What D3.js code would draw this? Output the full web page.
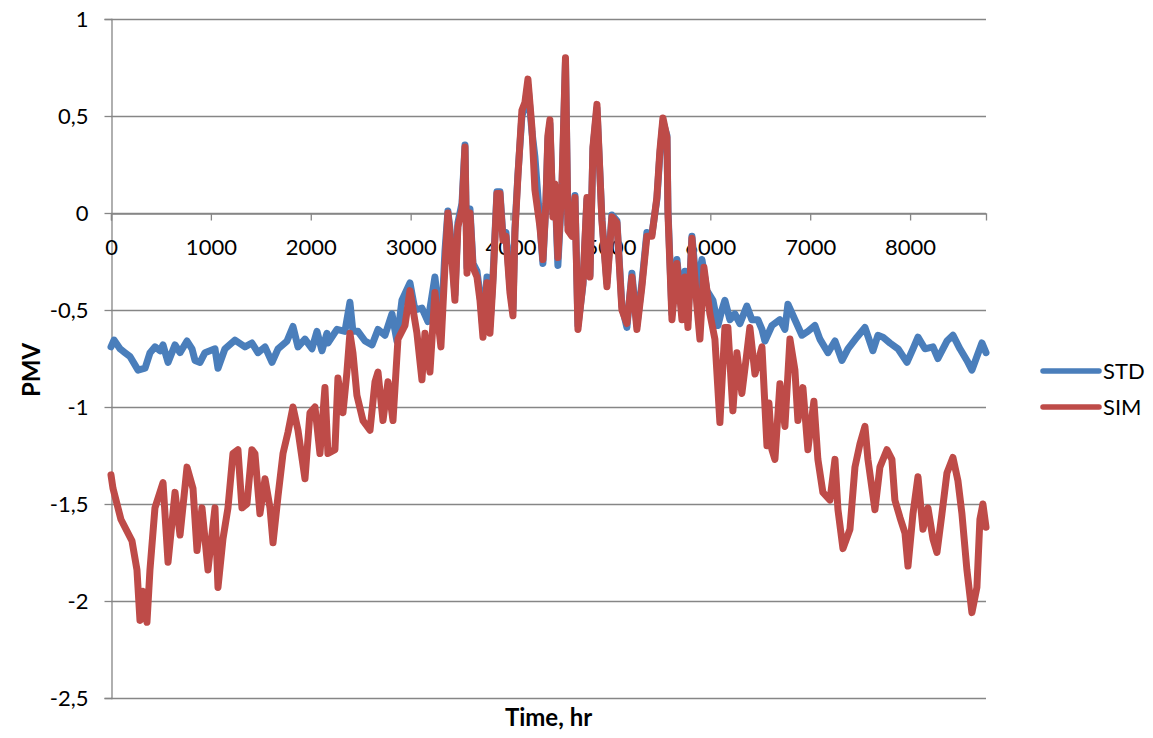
<!DOCTYPE html>
<html><head><meta charset="utf-8">
<script src="https://cdn.jsdelivr.net/npm/d3@7"></script>
<style>html,body{margin:0;padding:0;background:#fff;}svg{display:block;}</style>
</head><body>
<svg id="chart" width="1153" height="738"></svg>
<script>
const xTicks = [0,1000,2000,3000,4000,5000,6000,7000,8000];
const yTicks = [1,0.5,0,-0.5,-1,-1.5,-2,-2.5];
const seriesNames = ["STD","SIM"];
const seriesColors = ["#4A7EBB","#BE4B48"];

const stdHours = [0,30,90,140,190,271,341,391,441,491,521,571,641,691,761,811,841,891,941,1041,1071,1141,1241,1341,1411,1471,1542,1612,1672,1762,1822,1872,1942,2012,2062,2112,2162,2172,2262,2342,2392,2422,2472,2543,2613,2673,2743,2813,2863,2913,2993,3043,3113,3173,3243,
3273,3303,3343,3373,3393,3423,3443,3473,3514,3544,3564,3594,3624,3664,3694,3724,3764,3794,3824,3864,3894,3924,3954,3994,4024,4044,4074,4114,4144,4174,4214,4244,4294,4324,4354,4374,4394,4424,4444,4474,4515,4550,4575,
4615,4645,4675,4725,4765,4795,4825,4865,4915,4965,5015,5065,5115,5165,5215,5265,5315,5365,5415,5465,5495,5526,5566,5576,5616,5666,5716,5746,5776,5816,5866,
5916,5966,6026,6076,6116,6146,6196,6246,6296,6366,6416,6476,6517,6547,6617,6697,6747,6777,6847,6917,6977,7047,7097,7178,7248,7318,7378,7468,7548,7628,7678,7728,7798,7879,7969,8029,8079,8149,8229,8279,8369,8429,8499,8569,8619,8669,8719,8760];
const stdValues = [-0.69,-0.655,-0.70,-0.72,-0.74,-0.81,-0.80,-0.72,-0.69,-0.71,-0.68,-0.77,-0.68,-0.72,-0.66,-0.70,-0.76,-0.77,-0.72,-0.70,-0.80,-0.70,-0.655,-0.69,-0.67,-0.72,-0.69,-0.77,-0.70,-0.66,-0.585,-0.69,-0.65,-0.70,-0.61,-0.71,-0.62,-0.67,-0.60,-0.61,-0.46,-0.61,-0.61,-0.66,-0.68,-0.60,-0.63,-0.52,-0.66,-0.45,-0.36,-0.50,-0.49,-0.56,-0.33,
-0.47,-0.62,-0.20,0.01,-0.08,-0.28,-0.42,-0.05,0.05,0.35,-0.28,0.02,-0.26,-0.30,-0.42,-0.60,-0.33,-0.58,-0.33,0.11,0.11,-0.12,-0.10,-0.38,-0.50,-0.08,0.20,0.50,0.55,0.66,0.42,0.29,-0.05,-0.26,0.05,0.38,0.46,0.00,0.14,-0.27,0.13,0.78,-0.06,
-0.10,0.09,-0.58,-0.37,0.07,-0.32,0.33,0.54,-0.03,-0.36,-0.01,-0.04,-0.48,-0.59,-0.31,-0.58,-0.36,-0.10,-0.11,0.07,0.30,0.47,0.40,0.02,-0.52,-0.24,-0.52,-0.30,-0.55,-0.12,-0.40,
-0.24,-0.40,-0.45,-0.58,-0.50,-0.45,-0.55,-0.52,-0.57,-0.48,-0.55,-0.55,-0.60,-0.66,-0.58,-0.55,-0.60,-0.47,-0.55,-0.63,-0.61,-0.58,-0.65,-0.72,-0.66,-0.76,-0.70,-0.64,-0.59,-0.71,-0.63,-0.64,-0.67,-0.70,-0.77,-0.70,-0.64,-0.70,-0.69,-0.75,-0.66,-0.63,-0.70,-0.76,-0.81,-0.74,-0.67,-0.72];

const simHours = [0,20,100,210,260,290,320,360,390,440,521,571,641,691,761,821,861,911,971,1041,1071,1121,1171,1221,1271,1311,1361,1411,1441,1491,1542,1592,1622,1672,1722,1772,1822,1872,1942,1992,2042,2092,2142,2172,2242,2272,2322,2362,2392,2422,2462,2523,2593,2643,2673,2723,2773,2823,2873,2943,2993,3063,3113,3143,
3193,3243,3273,3303,3343,3373,3393,3423,3443,3473,3514,3544,3564,3594,3624,3664,3694,3724,3764,3794,3824,3864,3894,3924,3954,3994,4024,4044,4074,4114,4144,4174,4214,4244,4294,4324,4354,4374,4394,4424,4444,4474,4515,4550,4575,
4615,4645,4675,4725,4765,4795,4825,4865,4915,4965,5015,5065,5115,5165,5215,5265,5315,5365,5415,5465,5495,5526,5566,5576,5616,5666,5716,5746,5776,5816,5866,5896,5936,5996,6046,6096,6146,6176,6226,6266,6316,6366,6396,6447,6517,6567,6587,6617,6647,6697,6747,6797,6847,6877,6927,6977,7037,7077,7127,7198,7248,7278,7328,7398,7448,7498,7548,7578,7648,7698,7768,7818,7848,7899,7949,7979,8029,8079,8129,8179,8229,8269,8319,8369,8429,8479,8519,8569,8619,8669,8699,8729,8760];
const simValues = [-1.35,-1.42,-1.58,-1.69,-1.84,-2.10,-1.95,-2.11,-1.84,-1.52,-1.39,-1.80,-1.44,-1.66,-1.31,-1.42,-1.74,-1.52,-1.84,-1.52,-1.93,-1.68,-1.52,-1.24,-1.22,-1.52,-1.50,-1.22,-1.24,-1.55,-1.37,-1.52,-1.70,-1.46,-1.24,-1.13,-1.00,-1.12,-1.37,-1.03,-1.00,-1.24,-0.90,-1.24,-1.22,-0.85,-1.03,-0.82,-0.62,-0.72,-0.94,-1.07,-1.12,-0.87,-0.82,-1.07,-0.87,-1.07,-0.65,-0.58,-0.40,-0.62,-0.86,-0.62,
-0.82,-0.41,-0.55,-0.69,-0.28,0.00,-0.10,-0.31,-0.45,-0.07,0.02,0.34,-0.31,0.00,-0.28,-0.33,-0.45,-0.64,-0.36,-0.62,-0.36,0.10,0.10,-0.14,-0.12,-0.41,-0.53,-0.10,0.19,0.53,0.57,0.69,0.44,0.12,-0.07,-0.24,0.05,0.40,0.48,-0.02,0.15,-0.23,0.15,0.80,-0.09,
-0.12,0.08,-0.60,-0.36,0.08,-0.33,0.34,0.56,-0.04,-0.38,-0.02,-0.05,-0.50,-0.57,-0.33,-0.60,-0.38,-0.12,-0.12,0.08,0.32,0.49,0.39,0.00,-0.55,-0.26,-0.55,-0.33,-0.59,-0.13,-0.48,-0.65,-0.28,-0.52,-0.65,-1.08,-0.59,-0.59,-1.02,-0.72,-0.93,-0.72,-0.59,-0.83,-0.69,-1.20,-0.98,-1.22,-1.27,-0.88,-1.10,-0.65,-0.81,-1.07,-0.90,-1.22,-0.97,-1.27,-1.44,-1.48,-1.27,-1.53,-1.73,-1.63,-1.31,-1.19,-1.10,-1.27,-1.53,-1.31,-1.22,-1.27,-1.48,-1.57,-1.65,-1.82,-1.55,-1.36,-1.63,-1.52,-1.68,-1.75,-1.55,-1.34,-1.26,-1.38,-1.55,-1.84,-2.06,-1.93,-1.58,-1.50,-1.62];

const svg = d3.select("#chart");
const pLeft = 111, pRight = 986, pTop = 19, pBottom = 698;
const x = d3.scaleLinear().domain([0, 8760]).range([pLeft, pRight]);
const y = d3.scaleLinear().domain([-2.5, 1]).range([pBottom, pTop]);
const font = "Lato, 'Open Sans', sans-serif";
const gridColor = "#868686";

// horizontal gridlines
svg.append("g").selectAll("line").data(yTicks).join("line")
  .attr("x1", pLeft).attr("x2", pRight)
  .attr("y1", d => Math.round(y(d)) + 0.5).attr("y2", d => Math.round(y(d)) + 0.5)
  .attr("stroke", gridColor).attr("stroke-width", 1.3);

// y axis
const yAxis = d3.axisLeft(y).tickValues(yTicks).tickSize(7).tickPadding(16)
  .tickFormat(d => String(d).replace(".", ","));
const gy = svg.append("g").attr("transform", `translate(${pLeft + 0.5},0)`).call(yAxis);
gy.select(".domain").attr("stroke", gridColor).attr("stroke-width", 1.3);
gy.selectAll(".tick line").attr("stroke", gridColor).attr("stroke-width", 1.3);
gy.selectAll("text").attr("font-family", font).attr("font-size", 22).attr("fill", "#000");

// x axis at y = 0
const xAxis = d3.axisBottom(x).tickValues(xTicks).tickSize(7).tickPadding(19).tickFormat(d3.format("d"));
const gx = svg.append("g").attr("transform", `translate(0,${Math.round(y(0)) + 0.5})`).call(xAxis);
gx.select(".domain").attr("stroke", gridColor).attr("stroke-width", 1.3);
gx.selectAll(".tick line").attr("stroke", gridColor).attr("stroke-width", 1.3);
gx.selectAll("text").attr("font-family", font).attr("font-size", 22).attr("fill", "#000");

// lines
const series = [
  {name: seriesNames[0], color: seriesColors[0], pts: stdHours.map((h, i) => [h, stdValues[i]])},
  {name: seriesNames[1], color: seriesColors[1], pts: simHours.map((h, i) => [h, simValues[i]])}
];
const line = d3.line().x(d => x(d[0])).y(d => y(d[1]));
svg.append("g").selectAll("path").data(series).join("path")
  .attr("d", d => line(d.pts))
  .attr("fill", "none").attr("stroke", d => d.color)
  .attr("stroke-width", 7).attr("stroke-linejoin", "round").attr("stroke-linecap", "round");

// axis titles
svg.append("text").attr("x", (pLeft + pRight) / 2).attr("y", 726)
  .attr("text-anchor", "middle").attr("font-family", font).attr("font-weight", "bold")
  .attr("font-size", 24).text("Time, hr");
svg.append("text").attr("transform", "translate(40,370) rotate(-90)")
  .attr("text-anchor", "middle").attr("font-family", font).attr("font-weight", "bold")
  .attr("font-size", 24).text("PMV");

// legend
const lg = svg.append("g").selectAll("g").data(series).join("g")
  .attr("transform", (d, i) => `translate(1043,${371 + i * 36})`);
lg.append("line").attr("x1", 0).attr("x2", 56).attr("y1", 0).attr("y2", 0)
  .attr("stroke", d => d.color).attr("stroke-width", 5.5).attr("stroke-linecap", "round");
lg.append("text").attr("x", 60).attr("y", 8).attr("font-family", font)
  .attr("font-size", 22).text(d => d.name);
</script>
</body></html>
